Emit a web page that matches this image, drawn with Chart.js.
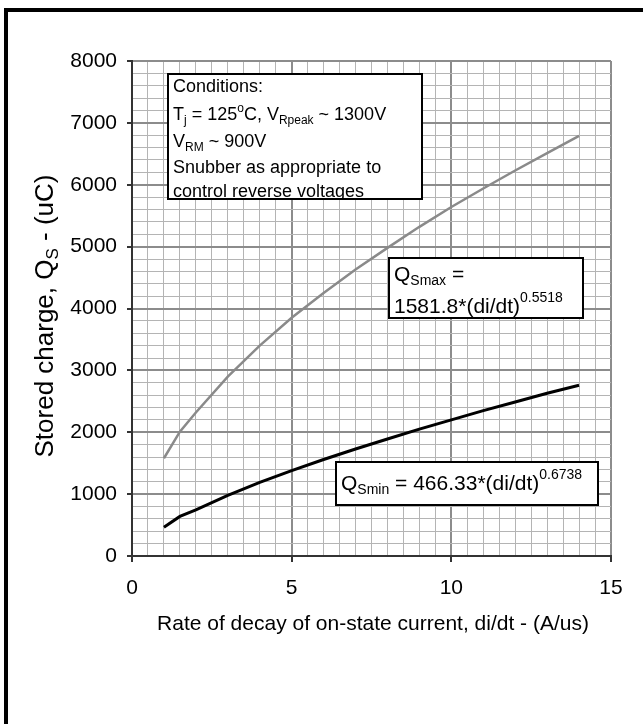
<!DOCTYPE html>
<html>
<head>
<meta charset="utf-8">
<script src="https://cdn.jsdelivr.net/npm/chart.js@4"></script>
<style>
  html, body { margin: 0; padding: 0; background: #fff; }
  #wrap { width: 643px; height: 724px; position: relative; }
</style>
</head>
<body>
<div id="wrap"><canvas id="storedChart"></canvas></div>
<script>
// values
const diDt   = [1, 1.5, 2, 3, 4, 5, 6, 7, 8, 9, 10, 11, 12, 13, 14];
const qsMax  = [1580, 2010, 2320, 2900, 3400, 3850, 4250, 4630, 4980, 5320, 5640, 5940, 6230, 6510, 6790];
const qsMin  = [465, 640, 745, 980, 1190, 1380, 1560, 1730, 1890, 2050, 2200, 2350, 2490, 2630, 2760];
const xTicks = [0, 5, 10, 15];
const yTicks = [0, 1000, 2000, 3000, 4000, 5000, 6000, 7000, 8000];

const FONT = '"Liberation Sans", Arial, sans-serif';
const majorGrid = '#8c8c8c';
const minorGrid = '#b4b4b4';
const axisColor = '#333333';

function pts(xs, ys) {
  return xs.map((x, i) => ({ x: x, y: ys[i] }));
}

// draw a line of text made of normal / sub / sup pieces
function textRun(ctx, x, y, parts, measureOnly) {
  let cx = x;
  parts.forEach(p => {
    ctx.font = p.size + 'px ' + FONT;
    if (!measureOnly) ctx.fillText(p.t, cx, y + (p.dy || 0));
    cx += ctx.measureText(p.t).width;
  });
  return cx - x;
}

function box(ctx, x1, y1, x2, y2) {
  ctx.save();
  ctx.fillStyle = '#fff';
  ctx.fillRect(x1, y1, x2 - x1, y2 - y1);
  ctx.restore();
}
function boxEdge(ctx, x1, y1, x2, y2) {
  ctx.save();
  ctx.strokeStyle = '#000';
  ctx.lineWidth = 2;
  ctx.strokeRect(x1, y1, x2 - x1, y2 - y1);
  ctx.restore();
}

const overlay = {
  id: 'overlay',
  afterDraw(chart) {
    const ctx = chart.ctx;
    ctx.save();
    ctx.fillStyle = '#000';
    ctx.textBaseline = 'alphabetic';
    ctx.textAlign = 'left';

    // conditions box
    box(ctx, 168, 74, 422, 199);
    ctx.save();
    ctx.beginPath();
    ctx.rect(168, 74, 254, 125);
    ctx.clip();
    ctx.fillStyle = '#000';
    textRun(ctx, 173, 92, [{ t: 'Conditions:', size: 18 }]);
    textRun(ctx, 173, 120, [
      { t: 'T', size: 18 }, { t: 'j', size: 12, dy: 4 },
      { t: ' = 125', size: 18 }, { t: 'o', size: 12, dy: -8 },
      { t: 'C, V', size: 18 }, { t: 'Rpeak', size: 12, dy: 4 },
      { t: ' ~ 1300V', size: 18 }
    ]);
    textRun(ctx, 173, 147, [
      { t: 'V', size: 18 }, { t: 'RM', size: 12, dy: 4 }, { t: ' ~ 900V', size: 18 }
    ]);
    textRun(ctx, 173, 173, [{ t: 'Snubber as appropriate to', size: 18 }]);
    textRun(ctx, 173, 197, [{ t: 'control reverse voltages', size: 18 }]);
    ctx.restore();
    boxEdge(ctx, 168, 74, 422, 199);

    // QSmax box
    box(ctx, 389, 258, 583, 318);
    ctx.fillStyle = '#000';
    textRun(ctx, 394, 281, [
      { t: 'Q', size: 21 }, { t: 'Smax', size: 14, dy: 4 }, { t: ' =', size: 21 }
    ]);
    textRun(ctx, 394, 313, [
      { t: '1581.8*(di/dt)', size: 21 }, { t: '0.5518', size: 14, dy: -11 }
    ]);
    boxEdge(ctx, 389, 258, 583, 318);

    // QSmin box
    box(ctx, 336, 462, 598, 505);
    ctx.fillStyle = '#000';
    textRun(ctx, 341, 490, [
      { t: 'Q', size: 21 }, { t: 'Smin', size: 14, dy: 4 },
      { t: ' = 466.33*(di/dt)', size: 21 }, { t: '0.6738', size: 14, dy: -11 }
    ]);
    boxEdge(ctx, 336, 462, 598, 505);

    // x axis title
    ctx.fillStyle = '#000';
    ctx.font = '21px ' + FONT;
    ctx.textAlign = 'center';
    ctx.fillText('Rate of decay of on-state current, di/dt - (A/us)', 373, 630);
    ctx.textAlign = 'left';

    // y axis title
    const yParts = [
      { t: 'Stored charge, Q', size: 26 }, { t: 'S', size: 17, dy: 5 }, { t: ' - (uC)', size: 26 }
    ];
    ctx.save();
    ctx.translate(53, 316);
    ctx.rotate(-Math.PI / 2);
    const w = textRun(ctx, 0, 0, yParts, true);
    textRun(ctx, -w / 2, 0, yParts);
    ctx.restore();

    // outer frame
    ctx.fillStyle = '#000';
    ctx.fillRect(4, 8, 4, 716);
    ctx.fillRect(4, 8, 639, 4);
    ctx.restore();
  }
};

new Chart(document.getElementById('storedChart'), {
  type: 'scatter',
  data: {
    datasets: [
      {
        label: 'QSmax',
        data: pts(diDt, qsMax),
        showLine: true,
        borderColor: '#8a8a8a',
        borderWidth: 2.5,
        pointRadius: 0,
        tension: 0
      },
      {
        label: 'QSmin',
        data: pts(diDt, qsMin),
        showLine: true,
        borderColor: '#000',
        borderWidth: 3,
        pointRadius: 0,
        tension: 0
      }
    ]
  },
  options: {
    responsive: true,
    maintainAspectRatio: false,
    animation: false,
    layout: { padding: { top: 61, right: 32, left: 0, bottom: 0 } },
    plugins: {
      legend: { display: false },
      tooltip: { enabled: false }
    },
    scales: {
      x: {
        type: 'linear',
        min: 0,
        max: 15,
        afterFit: s => { s.height = 168; },
        ticks: {
          stepSize: 0.5,
          autoSkip: false,
          maxRotation: 0,
          padding: 14,
          color: '#000',
          font: { family: FONT, size: 21 },
          callback: v => xTicks.includes(v) ? String(v) : ''
        },
        grid: {
          color: c => xTicks.includes(c.tick.value) ? majorGrid : minorGrid,
          lineWidth: c => xTicks.includes(c.tick.value) ? 2 : 1,
          tickColor: c => xTicks.includes(c.tick.value) ? axisColor : 'rgba(0,0,0,0)',
          tickLength: 6
        },
        border: { color: axisColor, width: 2 }
      },
      y: {
        min: 0,
        max: 8000,
        afterFit: s => { s.width = 132; },
        ticks: {
          stepSize: 200,
          autoSkip: false,
          padding: 10,
          color: '#000',
          font: { family: FONT, size: 21 },
          callback: v => yTicks.includes(v) ? String(v) : ''
        },
        grid: {
          color: c => yTicks.includes(c.tick.value) ? majorGrid : minorGrid,
          lineWidth: c => yTicks.includes(c.tick.value) ? 2 : 1,
          tickColor: c => yTicks.includes(c.tick.value) ? axisColor : 'rgba(0,0,0,0)',
          tickLength: 5
        },
        border: { color: axisColor, width: 2 }
      }
    }
  },
  plugins: [overlay]
});
</script>
</body>
</html>
